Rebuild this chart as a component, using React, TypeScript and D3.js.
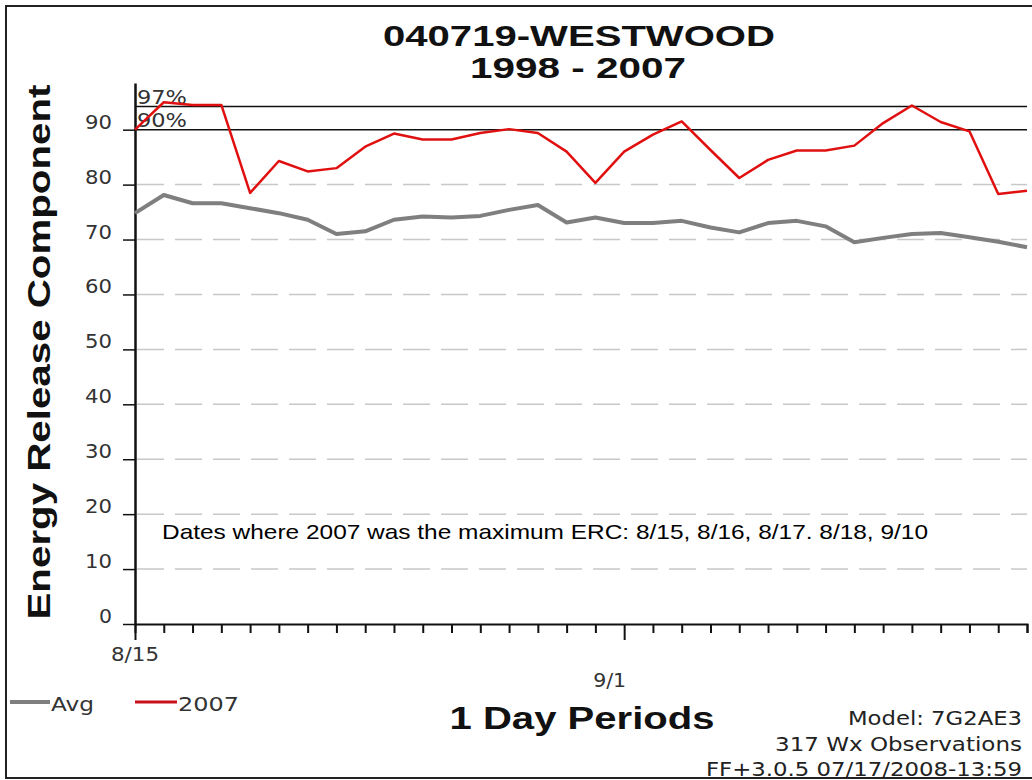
import { FC, useEffect, useRef } from 'react';
import * as d3 from 'd3';

// days on the x axis, 8/15 .. 9/15 (2007)
const days = d3.timeDay.range(new Date(2007, 7, 15), new Date(2007, 8, 16));

const avgValues = [
  74.8, 78.1, 76.6, 76.6, 75.7, 74.8, 73.6, 71.0, 71.5, 73.6, 74.2, 74.0, 74.3, 75.4, 76.3, 73.1,
  74.0, 73.0, 73.0, 73.4, 72.2, 71.3, 73.0, 73.4, 72.4, 69.5, 70.3, 71.0, 71.2, 70.4, 69.6, 68.6,
];

const values2007 = [
  90.0, 95.0, 94.5, 94.5, 78.5, 84.3, 82.4, 83.0, 86.9, 89.3, 88.2, 88.2, 89.4, 90.1, 89.4, 86.0,
  80.3, 86.0, 89.1, 91.5, 86.3, 81.2, 84.5, 86.2, 86.2, 87.1, 91.2, 94.4, 91.4, 89.7, 78.3, 78.9,
];

const yTicks = [0, 10, 20, 30, 40, 50, 60, 70, 80, 90];
const percentiles = [
  { label: '97%', value: 94.2 },
  { label: '90%', value: 90.0 },
];
const xLabels = [
  { date: new Date(2007, 7, 15), text: '8/15' },
  { date: new Date(2007, 8, 1), text: '9/1' },
];
const footerLines = ['Model: 7G2AE3', '317 Wx Observations', 'FF+3.0.5 07/17/2008-13:59'];

const Chart: FC<{ width?: number; height?: number }> = ({ width = 1032, height = 780 }) => {
  const svgRef = useRef<SVGSVGElement | null>(null);

  useEffect(() => {
    if (!svgRef.current) return;
    const svg = d3.select(svgRef.current);
    svg.selectAll('*').remove();

    const x = d3
      .scaleTime()
      .domain([days[0], days[days.length - 1]])
      .range([135, 1027]);

    const y = d3.scaleLinear().domain([0, 98.5]).range([624, 83]);

    const addText = (
      tx: number,
      ty: number,
      str: string,
      size: number,
      opts: { anchor?: string; weight?: string; family?: string; fill?: string; len?: number } = {}
    ) => {
      const t = svg
        .append('text')
        .attr('x', tx)
        .attr('y', ty)
        .attr('text-anchor', opts.anchor ?? 'start')
        .attr('font-family', opts.family ?? 'Liberation Sans, Arial, sans-serif')
        .attr('font-size', size)
        .attr('font-weight', opts.weight ?? 'normal')
        .attr('fill', opts.fill ?? '#111')
        .text(str);
      if (opts.len) t.attr('textLength', opts.len).attr('lengthAdjust', 'spacingAndGlyphs');
      return t;
    };

    // frame
    svg
      .append('rect')
      .attr('x', 6)
      .attr('y', 6)
      .attr('width', 1030)
      .attr('height', 772)
      .attr('fill', 'none')
      .attr('stroke', '#222')
      .attr('stroke-width', 2);

    // title
    addText(579, 46, '040719-WESTWOOD', 30, { anchor: 'middle', weight: 'bold', len: 392 });
    addText(578, 78, '1998 - 2007', 30, { anchor: 'middle', weight: 'bold', len: 216 });

    // dashed grid
    svg
      .append('g')
      .selectAll('line')
      .data(yTicks.filter((d) => d > 0 && d < 90))
      .enter()
      .append('line')
      .attr('x1', 137)
      .attr('x2', 1027)
      .attr('y1', (d) => y(d))
      .attr('y2', (d) => y(d))
      .attr('stroke', '#c8c8c8')
      .attr('stroke-width', 1.5)
      .attr('stroke-dasharray', '27 11');

    // percentile lines
    percentiles.forEach((p) => {
      svg
        .append('line')
        .attr('x1', x(days[0]))
        .attr('x2', 1027)
        .attr('y1', y(p.value))
        .attr('y2', y(p.value))
        .attr('stroke', '#111')
        .attr('stroke-width', 1.5);
      addText(137, y(p.value) - 3, p.label, 19, { family: 'DejaVu Sans, sans-serif', fill: '#333', len: 50 });
    });

    // x axis
    const xAxis = svg
      .append('g')
      .attr('transform', `translate(0,${y(0)})`)
      .call(
        d3
          .axisBottom(x)
          .ticks(d3.timeDay.every(1))
          .tickSizeOuter(0)
          .tickSize(9)
          .tickFormat(() => '')
      );
    xAxis.select('.domain').attr('stroke', '#111').attr('stroke-width', 2);
    xAxis
      .selectAll('.tick line')
      .attr('stroke', '#111')
      .attr('stroke-width', 2)
      .attr('y2', (d: any) => (xLabels.some((l) => +l.date === +d) ? 16 : 9));

    addText(x(xLabels[0].date), 661, xLabels[0].text, 19, {
      anchor: 'middle',
      family: 'DejaVu Sans, sans-serif',
      fill: '#333',
      len: 48,
    });
    addText(x(xLabels[1].date) + 2, 687, xLabels[1].text, 19, {
      anchor: 'end',
      family: 'DejaVu Sans, sans-serif',
      fill: '#333',
      len: 33,
    });

    // y axis
    const yAxis = svg
      .append('g')
      .attr('transform', `translate(${x(days[0])},0)`)
      .call(d3.axisLeft(y).tickValues(yTicks).tickSize(12).tickSizeOuter(0).tickFormat(() => ''));
    yAxis.select('.domain').attr('stroke', '#111').attr('stroke-width', 2.5);
    yAxis.selectAll('.tick line').attr('stroke', '#111').attr('stroke-width', 1.5);

    yTicks.forEach((t) => {
      addText(112, y(t) - 1, String(t), 19, {
        anchor: 'end',
        family: 'DejaVu Sans, sans-serif',
        fill: '#333',
        len: t === 0 ? 13 : 27,
      });
    });

    // axis title
    svg
      .append('text')
      .attr('transform', `translate(50,352) rotate(-90)`)
      .attr('text-anchor', 'middle')
      .attr('font-family', 'Liberation Sans, Arial, sans-serif')
      .attr('font-size', 31)
      .attr('font-weight', 'bold')
      .attr('fill', '#111')
      .attr('textLength', 535)
      .attr('lengthAdjust', 'spacingAndGlyphs')
      .text('Energy Release Component');

    // series
    const line = d3
      .line<number>()
      .x((_, i) => x(days[i]))
      .y((d) => y(d));

    svg
      .append('path')
      .datum(avgValues)
      .attr('fill', 'none')
      .attr('stroke', '#7f7f7f')
      .attr('stroke-width', 4)
      .attr('stroke-linejoin', 'round')
      .attr('d', line);

    svg
      .append('path')
      .datum(values2007)
      .attr('fill', 'none')
      .attr('stroke', '#e01010')
      .attr('stroke-width', 2.5)
      .attr('stroke-linejoin', 'round')
      .attr('d', line);

    // annotation
    addText(162, 539, 'Dates where 2007 was the maximum ERC: 8/15, 8/16, 8/17. 8/18, 9/10', 21, {
      fill: '#000',
      len: 766,
    });

    // legend
    const legend = [
      { label: 'Avg', color: '#7f7f7f', x1: 10, x2: 50, width: 4, len: 43 },
      { label: '2007', color: '#c8101c', x1: 135, x2: 177, width: 3, len: 61 },
    ];
    legend.forEach((l) => {
      svg
        .append('line')
        .attr('x1', l.x1)
        .attr('x2', l.x2)
        .attr('y1', 702)
        .attr('y2', 702)
        .attr('stroke', l.color)
        .attr('stroke-width', l.width);
      addText(l.x2 + 1, 711, l.label, 19, { family: 'DejaVu Sans, sans-serif', fill: '#333', len: l.len });
    });

    // x axis title
    addText(582, 729, '1 Day Periods', 32, { anchor: 'middle', weight: 'bold', len: 265 });

    // footer
    const footerLens = [174, 247, 316];
    footerLines.forEach((s, i) => {
      addText(1022, 725 + i * 25.5, s, 19, {
        anchor: 'end',
        family: 'DejaVu Sans, sans-serif',
        fill: '#222',
        len: footerLens[i],
      });
    });
  }, [width, height]);

  return (
    <svg
      ref={svgRef}
      width={width}
      height={height}
      style={{ position: 'absolute', top: 0, left: 0, display: 'block', background: '#fff' }}
    />
  );
};

export default function App() {
  return <Chart />;
}
